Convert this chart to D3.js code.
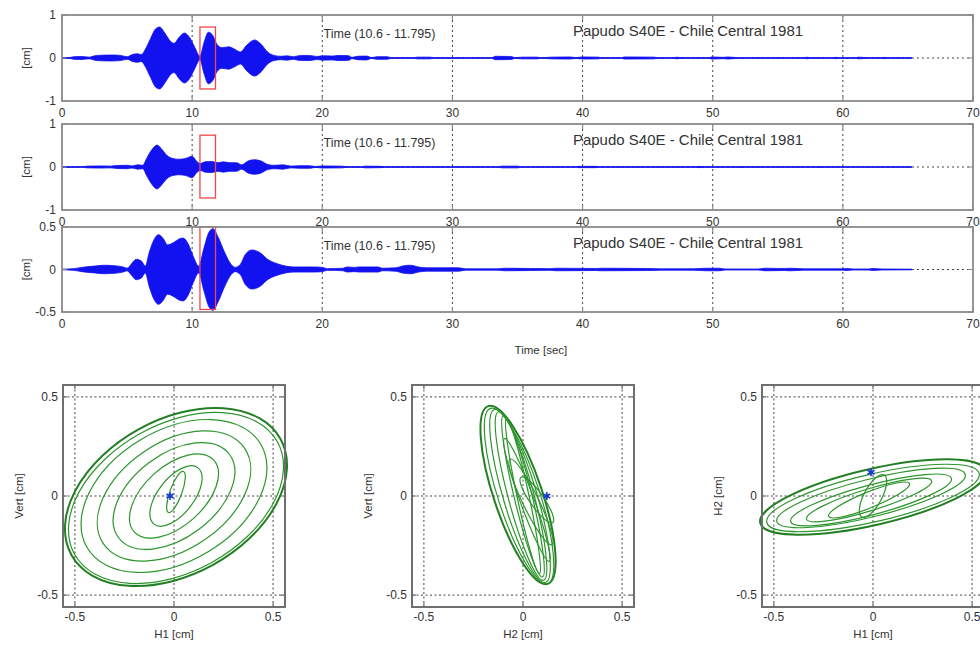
<!DOCTYPE html>
<html>
<head>
<meta charset="utf-8">
<script src="https://cdn.jsdelivr.net/npm/d3@7"></script>
<style>
  html, body { margin: 0; padding: 0; background: #fff; }
  svg { display: block; font-family: "Liberation Sans", Arial, Helvetica, sans-serif; }
</style>
</head>
<body>
<svg id="chart" width="980" height="648"></svg>
<script>
// ---- Data ---------------------------------------------------------------
const timeTicks = [0, 10, 20, 30, 40, 50, 60, 70];
const recordTitle = "Papudo S40E - Chile Central 1981";
const windowLabel = "Time (10.6 - 11.795)";
const windowStart = 10.6;
const windowEnd = 11.795;
const recordEnd = 65.3;

// Envelope of each displacement trace: [time (s), amplitude (cm)]
const envH1 = [[0,0.006],[0.6,0.01],[0.9,0.03],[1.5,0.035],[2.1,0.02],[2.5,0.05],[3.0,0.065],[3.8,0.07],[4.5,0.06],[5.0,0.03],[5.4,0.08],[5.8,0.1],[6.1,0.08],[6.4,0.2],[6.8,0.45],[7.2,0.68],[7.5,0.72],[7.9,0.58],[8.3,0.4],[8.6,0.34],[9.0,0.48],[9.4,0.58],[9.8,0.48],[10.2,0.25],[10.6,0.04],[10.9,0.35],[11.25,0.6],[11.6,0.52],[11.9,0.32],[12.3,0.24],[12.8,0.26],[13.3,0.2],[13.7,0.14],[14.2,0.3],[14.8,0.42],[15.3,0.32],[15.8,0.14],[16.3,0.06],[16.8,0.04],[17.3,0.05],[17.8,0.03],[18.2,0.055],[19.0,0.06],[19.6,0.035],[20.0,0.05],[20.8,0.045],[21.2,0.06],[22.0,0.055],[22.3,0.015],[22.7,0.04],[23.4,0.045],[23.8,0.01],[24.2,0.03],[25.0,0.03],[25.3,0.008],[27.0,0.008],[27.3,0.02],[28.3,0.02],[28.6,0.005],[33.0,0.005],[33.3,0.04],[34.5,0.035],[34.8,0.01],[35.4,0.02],[36.5,0.02],[36.8,0.005],[37.6,0.02],[39.0,0.025],[39.5,0.01],[40.0,0.025],[41.2,0.02],[41.5,0.005],[43.0,0.005],[43.2,0.025],[45.5,0.02],[45.8,0.005],[47.0,0.005],[47.2,0.018],[47.8,0.005],[49.7,0.005],[49.9,0.025],[50.8,0.015],[51.2,0.025],[52.0,0.005],[57.0,0.005],[57.2,0.018],[57.6,0.005],[59.3,0.005],[59.4,0.018],[59.7,0.005],[61.0,0.005],[61.2,0.02],[62.0,0.005],[63.0,0.005],[63.2,0.015],[63.5,0.005],[65.3,0.004]];
const envH2 = [[0,0.004],[1.6,0.006],[1.9,0.02],[3.0,0.025],[3.7,0.02],[4.2,0.035],[5.0,0.04],[5.4,0.025],[5.8,0.05],[6.2,0.04],[6.5,0.2],[6.9,0.4],[7.3,0.51],[7.7,0.4],[8.1,0.26],[8.5,0.2],[9.0,0.18],[9.5,0.2],[10.0,0.25],[10.3,0.15],[10.6,0.08],[11.0,0.12],[11.5,0.13],[12.0,0.1],[12.4,0.12],[12.9,0.1],[13.4,0.1],[13.8,0.05],[14.3,0.14],[14.8,0.17],[15.3,0.14],[15.8,0.06],[16.3,0.04],[17.0,0.05],[17.6,0.02],[18.2,0.03],[19.0,0.03],[19.5,0.01],[20.0,0.025],[21.5,0.02],[22.0,0.005],[23.0,0.005],[23.3,0.02],[24.5,0.015],[24.8,0.005],[33.5,0.005],[33.8,0.02],[35.0,0.02],[35.3,0.005],[39.5,0.005],[39.7,0.015],[41.0,0.015],[41.3,0.005],[48.7,0.005],[48.9,0.015],[49.4,0.005],[52.0,0.005],[52.2,0.012],[52.6,0.005],[58.0,0.005],[58.2,0.012],[58.5,0.005],[65.3,0.004]];
const envV = [[0,0.004],[0.9,0.01],[1.5,0.025],[2.5,0.04],[3.2,0.05],[4.0,0.045],[4.7,0.03],[5.0,0.015],[5.3,0.06],[5.7,0.12],[6.1,0.1],[6.4,0.04],[6.7,0.2],[7.1,0.36],[7.4,0.41],[7.8,0.36],[8.1,0.29],[8.6,0.32],[9.0,0.36],[9.3,0.37],[9.7,0.3],[10.1,0.15],[10.5,0.04],[10.9,0.25],[11.3,0.44],[11.6,0.48],[12.0,0.38],[12.5,0.2],[13.0,0.06],[13.3,0.025],[13.7,0.06],[14.1,0.18],[14.6,0.23],[15.2,0.2],[15.8,0.12],[16.5,0.07],[17.2,0.04],[17.8,0.03],[18.5,0.03],[19.3,0.03],[20.0,0.025],[20.4,0.01],[21.6,0.015],[21.9,0.03],[22.5,0.025],[22.8,0.03],[24.3,0.03],[24.6,0.015],[25.6,0.02],[26.3,0.045],[26.8,0.05],[27.4,0.03],[28.0,0.02],[30.5,0.02],[31.0,0.008],[33.5,0.008],[34.0,0.015],[36.0,0.012],[37.5,0.01],[38.0,0.015],[41.0,0.012],[41.5,0.015],[45.0,0.012],[46.0,0.008],[48.5,0.008],[49.5,0.015],[50.5,0.015],[51.0,0.006],[53.5,0.006],[54.0,0.015],[55.5,0.012],[56.0,0.015],[57.0,0.008],[60.0,0.008],[60.3,0.012],[60.8,0.006],[62.0,0.006],[62.3,0.012],[63.0,0.006],[65.3,0.004]];

// y-axis settings per trace
const traceDomains = [[-1, 1], [-1, 1], [-0.5, 0.5]];
const traceTicks = [[-1, 0, 1], [-1, 0, 1], [-0.5, 0, 0.5]];
const traceTickLabels = [["-1", "0", "1"], ["-1", "0", "1"], ["-0.5", "0", "0.5"]];
// amplitude range framed by the selection box, per trace
const windowRange = [[-0.72, 0.72], [-0.72, 0.74], [-0.47, 0.5]];

// Particle-motion loops within the window: [centre x, centre y, semi-major, semi-minor, tilt (deg)]
const loopsH1V = [[0.01,-0.005,0.603,0.39,29],[0.01,-0.01,0.585,0.372,29],[0.0,0.0,0.51,0.33,31],[0.0,0.0,0.43,0.27,34],[0.0,0.0,0.35,0.21,37],[0.0,0.0,0.27,0.15,42],[0.01,0.0,0.18,0.09,52],[0.01,0.02,0.11,0.03,70]];
const loopsH2V = [[-0.025,0.005,0.473,0.122,-71.5],[-0.02,0.0,0.465,0.105,-72],[-0.015,0.0,0.455,0.085,-73.5],[-0.01,0.0,0.44,0.065,-75],[0.0,0.0,0.42,0.045,-76.5],[0.0,0.0,0.4,0.03,-78],[0.02,-0.02,0.33,0.035,-70],[0.04,-0.03,0.24,0.04,-64],[0.07,-0.02,0.14,0.035,-55]];
const loopsH1H2 = [[0.0,-0.005,0.584,0.141,13],[0.0,-0.01,0.55,0.12,13],[-0.01,-0.01,0.49,0.095,14],[-0.01,-0.02,0.42,0.075,15],[-0.02,-0.02,0.33,0.055,17],[-0.02,-0.02,0.22,0.04,22],[0.0,0.0,0.12,0.045,62]];
const startPoints = [[-0.02, 0.0], [0.12, 0.0], [-0.01, 0.12]];
const orbitTicks = [-0.5, 0, 0.5];
const orbitTickLabels = ["-0.5", "0", "0.5"];
const orbitXLabels = ["H1 [cm]", "H2 [cm]", "H1 [cm]"];
const orbitYLabels = ["Vert [cm]", "Vert [cm]", "H2 [cm]"];

// ---- Drawing ------------------------------------------------------------
const svg = d3.select("#chart");
const textColor = "#333";
const boxColor = "#8a8a8a";
const gridColor = "#444";
const traceColor = "#1212f0";
const loopColor = "#2c952c";

const plotLeft = 62, plotRight = 973;
const traceBands = [[15, 101], [124, 210], [227, 312]];
const envelopes = [envH1, envH2, envV];

const x = d3.scaleLinear().domain([0, 70]).range([plotLeft, plotRight]);

envelopes.forEach((env, i) => {
  const [top, bottom] = traceBands[i];
  const y = d3.scaleLinear().domain(traceDomains[i]).range([bottom, top]);
  const g = svg.append("g");

  // dotted grid
  g.selectAll(".gx").data(timeTicks.slice(1, -1)).join("line")
    .attr("x1", d => x(d)).attr("x2", d => x(d))
    .attr("y1", top).attr("y2", bottom)
    .attr("stroke", gridColor).attr("stroke-width", 1).attr("stroke-dasharray", "2,3");
  g.selectAll(".gy").data(traceTicks[i].slice(1, -1)).join("line")
    .attr("x1", plotLeft).attr("x2", plotRight)
    .attr("y1", d => y(d)).attr("y2", d => y(d))
    .attr("stroke", gridColor).attr("stroke-width", 1).attr("stroke-dasharray", "2,3");

  // trace envelope and baseline
  const area = d3.area()
    .x(d => x(d[0]))
    .y0(d => y(-d[1]))
    .y1(d => y(d[1]))
    .curve(d3.curveMonotoneX);
  g.append("path").datum(env).attr("d", area)
    .attr("fill", traceColor).attr("stroke", traceColor).attr("stroke-width", 0.8);
  g.append("line")
    .attr("x1", x(0)).attr("x2", x(recordEnd))
    .attr("y1", y(0)).attr("y2", y(0))
    .attr("stroke", traceColor).attr("stroke-width", 1.2);

  // selected window
  g.append("rect")
    .attr("x", x(windowStart)).attr("width", x(windowEnd) - x(windowStart))
    .attr("y", y(windowRange[i][1])).attr("height", y(windowRange[i][0]) - y(windowRange[i][1]))
    .attr("fill", "none").attr("stroke", "#f04848").attr("stroke-width", 1.3);

  // frame and ticks
  g.append("rect").attr("x", plotLeft).attr("y", top)
    .attr("width", plotRight - plotLeft).attr("height", bottom - top)
    .attr("fill", "none").attr("stroke", boxColor).attr("stroke-width", 1.8);
  g.selectAll(".tkb").data(timeTicks).join("path")
    .attr("d", d => `M${x(d)},${bottom}v-5M${x(d)},${top}v5`)
    .attr("stroke", boxColor).attr("stroke-width", 1.2);
  g.selectAll(".tky").data(traceTicks[i]).join("path")
    .attr("d", d => `M${plotLeft},${y(d)}h5M${plotRight},${y(d)}h-5`)
    .attr("stroke", boxColor).attr("stroke-width", 1.2);

  // tick labels
  g.selectAll(".lx").data(timeTicks).join("text")
    .attr("x", d => x(d)).attr("y", bottom + 16)
    .attr("text-anchor", "middle").attr("font-size", 12).attr("fill", textColor)
    .text(d => d);
  g.selectAll(".ly").data(traceTicks[i]).join("text")
    .attr("x", plotLeft - 6).attr("y", d => y(d) + 4)
    .attr("text-anchor", "end").attr("font-size", 12).attr("fill", textColor)
    .text((d, k) => traceTickLabels[i][k]);
  g.append("text")
    .attr("transform", `translate(${plotLeft - 32},${(top + bottom) / 2}) rotate(-90)`)
    .attr("text-anchor", "middle").attr("font-size", 11.5).attr("fill", textColor)
    .text("[cm]");

  // annotations
  g.append("text").attr("x", x(20.1)).attr("y", top + 23)
    .attr("font-size", 12.5).attr("fill", textColor).text(windowLabel);
  g.append("text").attr("x", 688).attr("y", top + 21)
    .attr("text-anchor", "middle").attr("font-size", 15).attr("fill", textColor)
    .text(recordTitle);
});

svg.append("text").attr("x", x(36.8)).attr("y", 354)
  .attr("text-anchor", "middle").attr("font-size", 11.5).attr("fill", textColor)
  .text("Time [sec]");

// ---- Particle-motion plots ---------------------------------------------
const orbitLefts = [63, 412, 762];
const orbitTop = 385, orbitSize = 222;
const loopSets = [loopsH1V, loopsH2V, loopsH1H2];

loopSets.forEach((loops, i) => {
  const left = orbitLefts[i];
  const ox = d3.scaleLinear().domain([-0.56, 0.56]).range([left, left + orbitSize]);
  const oy = d3.scaleLinear().domain([-0.56, 0.56]).range([orbitTop + orbitSize, orbitTop]);
  const g = svg.append("g");

  g.selectAll(".gx").data(orbitTicks).join("line")
    .attr("x1", d => ox(d)).attr("x2", d => ox(d))
    .attr("y1", orbitTop).attr("y2", orbitTop + orbitSize)
    .attr("stroke", gridColor).attr("stroke-width", 1).attr("stroke-dasharray", "2,2.5");
  g.selectAll(".gy").data(orbitTicks).join("line")
    .attr("x1", left).attr("x2", left + orbitSize)
    .attr("y1", d => oy(d)).attr("y2", d => oy(d))
    .attr("stroke", gridColor).attr("stroke-width", 1).attr("stroke-dasharray", "2,2.5");

  g.selectAll(".loop").data(loops).join("ellipse")
    .attr("cx", d => ox(d[0])).attr("cy", d => oy(d[1]))
    .attr("rx", d => ox(d[2]) - ox(0)).attr("ry", d => oy(0) - oy(d[3]))
    .attr("transform", d => `rotate(${-d[4]},${ox(d[0])},${oy(d[1])})`)
    .attr("fill", "none")
    .attr("stroke", (d, k) => k === 0 ? "#237f23" : loopColor)
    .attr("stroke-width", (d, k) => k === 0 ? 2 : 1.2);

  const sp = startPoints[i];
  g.append("path")
    .attr("d", d3.symbol(d3.symbolAsterisk, 45)())
    .attr("transform", `translate(${ox(sp[0])},${oy(sp[1])})`)
    .attr("stroke", "#1a3fd0").attr("stroke-width", 1.6).attr("fill", "none");
  g.append("circle").attr("cx", ox(sp[0])).attr("cy", oy(sp[1])).attr("r", 2)
    .attr("fill", "#1a3fd0");

  g.append("rect").attr("x", left).attr("y", orbitTop)
    .attr("width", orbitSize).attr("height", orbitSize)
    .attr("fill", "none").attr("stroke", "#6f6f6f").attr("stroke-width", 2);
  g.selectAll(".tk").data(orbitTicks).join("path")
    .attr("d", d => `M${ox(d)},${orbitTop + orbitSize}v-4M${ox(d)},${orbitTop}v4M${left},${oy(d)}h4M${left + orbitSize},${oy(d)}h-4`)
    .attr("stroke", "#6f6f6f").attr("stroke-width", 1.2);

  g.selectAll(".lx").data(orbitTicks).join("text")
    .attr("x", d => ox(d)).attr("y", orbitTop + orbitSize + 14)
    .attr("text-anchor", "middle").attr("font-size", 12).attr("fill", textColor)
    .text((d, k) => orbitTickLabels[k]);
  g.selectAll(".ly").data(orbitTicks).join("text")
    .attr("x", left - 5).attr("y", d => oy(d) + 4)
    .attr("text-anchor", "end").attr("font-size", 12).attr("fill", textColor)
    .text((d, k) => orbitTickLabels[k]);
  g.append("text").attr("x", ox(0)).attr("y", orbitTop + orbitSize + 31)
    .attr("text-anchor", "middle").attr("font-size", 11.5).attr("fill", textColor)
    .text(orbitXLabels[i]);
  g.append("text")
    .attr("transform", `translate(${left - 40},${oy(0)}) rotate(-90)`)
    .attr("text-anchor", "middle").attr("font-size", 11.5).attr("fill", textColor)
    .text(orbitYLabels[i]);
});
</script>
</body>
</html>
